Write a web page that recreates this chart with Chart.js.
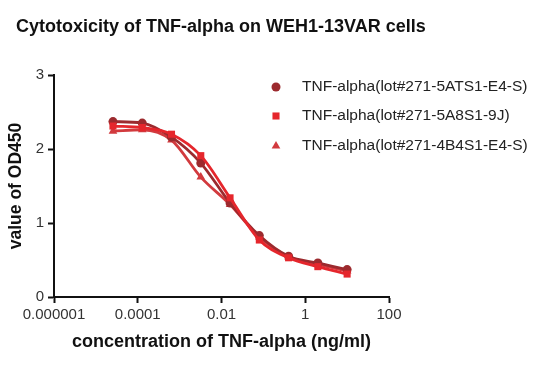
<!DOCTYPE html>
<html>
<head>
<meta charset="utf-8">
<script src="https://cdn.jsdelivr.net/npm/chart.js@4.4.1/dist/chart.umd.min.js"></script>
<style>
  html, body { margin: 0; padding: 0; background: #ffffff; }
  #wrap { position: relative; width: 550px; height: 372px; }
</style>
</head>
<body>
<div id="wrap"><canvas id="chart" width="550" height="372"></canvas></div>
<script>
// ---- data ----
const concentrations = [0.0000256, 0.000128, 0.00064, 0.0032, 0.016, 0.08, 0.4, 2, 10];
const lotATS1 = [2.37, 2.35, 2.16, 1.81, 1.27, 0.83, 0.55, 0.46, 0.37];
const lotA8S1 = [2.31, 2.29, 2.20, 1.91, 1.34, 0.77, 0.53, 0.41, 0.31];
const lotB4S1 = [2.24, 2.26, 2.12, 1.62, 1.25, 0.81, 0.54, 0.44, 0.35];
const seriesNames = [
    'TNF-alpha(lot#271-5ATS1-E4-S)',
    'TNF-alpha(lot#271-5A8S1-9J)',
    'TNF-alpha(lot#271-4B4S1-E4-S)'
];
const xTickValues = [0.000001, 0.0001, 0.01, 1, 100];
const xTickLabels = ['0.000001', '0.0001', '0.01', '1', '100'];
const yTickValues = [0, 1, 2, 3];

const COLORS = ['#9c2a2e', '#e5262c', '#d23a3e'];
const STYLES = ['circle', 'rect', 'triangle'];
const RADII = [4.5, 5, 5];
const FONT = "'Liberation Sans', Arial, sans-serif";

function pts(vals) {
    return concentrations.map((c, i) => ({ x: c, y: vals[i] }));
}

function makeSet(idx, vals, order) {
    return {
        label: seriesNames[idx],
        data: pts(vals),
        borderColor: COLORS[idx],
        backgroundColor: COLORS[idx],
        borderWidth: 2.8,
        pointStyle: STYLES[idx],
        pointRadius: RADII[idx],
        pointBorderWidth: 0,
        cubicInterpolationMode: 'monotone',
        showLine: true,
        fill: false,
        order: order
    };
}

// title + legend drawn by hand so they can sit where the original has them
const decorPlugin = {
    id: 'decor',
    afterDraw(chart) {
        const ctx = chart.ctx;
        ctx.save();
        ctx.fillStyle = '#111111';
        ctx.font = 'bold 18px ' + FONT;
        ctx.textBaseline = 'middle';
        ctx.textAlign = 'left';
        ctx.fillText('Cytotoxicity of TNF-alpha on WEH1-13VAR cells', 16, 27);

        const rows = [87, 116, 146];
        ctx.font = '15.5px ' + FONT;
        chart.data.datasets.forEach((ds) => {
            const legendIdx = seriesNames.indexOf(ds.label);
            const y = rows[legendIdx];
            ctx.fillStyle = COLORS[legendIdx];
            Chart.helpers.drawPoint(ctx, {
                pointStyle: STYLES[legendIdx],
                radius: RADII[legendIdx],
                borderWidth: 0
            }, 276, y);
            ctx.fillStyle = '#222222';
            ctx.fillText(ds.label, 302, y);
        });
        ctx.restore();
    }
};

new Chart(document.getElementById('chart'), {
    type: 'scatter',
    data: {
        datasets: [
            makeSet(0, lotATS1, 2),
            makeSet(1, lotA8S1, 1),
            makeSet(2, lotB4S1, 3)
        ]
    },
    options: {
        responsive: false,
        animation: false,
        layout: { padding: { top: 75, right: 161, left: 0, bottom: 0 } },
        plugins: {
            legend: { display: false },
            title: { display: false },
            tooltip: { enabled: false }
        },
        scales: {
            x: {
                type: 'logarithmic',
                min: 0.000001,
                max: 100,
                afterBuildTicks: axis => {
                    axis.ticks = xTickValues.map(v => ({ value: v }));
                },
                afterFit: axis => { axis.height = 75; },
                border: { display: true, color: '#111111', width: 2 },
                grid: {
                    drawOnChartArea: false,
                    drawTicks: true,
                    tickLength: 6,
                    tickWidth: 2,
                    tickColor: '#111111'
                },
                ticks: {
                    autoSkip: false,
                    maxRotation: 0,
                    padding: 3,
                    color: '#333333',
                    font: { family: FONT, size: 15 },
                    callback: (v) => {
                        const i = xTickValues.findIndex(t => Math.abs(Math.log10(t) - Math.log10(v)) < 1e-6);
                        return i >= 0 ? xTickLabels[i] : '';
                    }
                },
                title: {
                    display: true,
                    text: 'concentration of TNF-alpha (ng/ml)',
                    color: '#111111',
                    font: { family: FONT, size: 18, weight: 'bold' },
                    padding: { top: 4, bottom: 19 }
                }
            },
            y: {
                min: 0,
                max: 3,
                afterBuildTicks: axis => {
                    axis.ticks = yTickValues.map(v => ({ value: v }));
                },
                afterFit: axis => { axis.width = 54; },
                border: { display: true, color: '#111111', width: 2 },
                grid: {
                    drawOnChartArea: false,
                    drawTicks: true,
                    tickLength: 6,
                    tickWidth: 2,
                    tickColor: '#111111'
                },
                ticks: {
                    padding: 4,
                    color: '#333333',
                    font: { family: FONT, size: 15 }
                },
                title: {
                    display: true,
                    text: 'value of OD450',
                    color: '#111111',
                    font: { family: FONT, size: 17.5, weight: 'bold' },
                    padding: { top: 6, bottom: 4 }
                }
            }
        }
    },
    plugins: [decorPlugin]
});
</script>
</body>
</html>
